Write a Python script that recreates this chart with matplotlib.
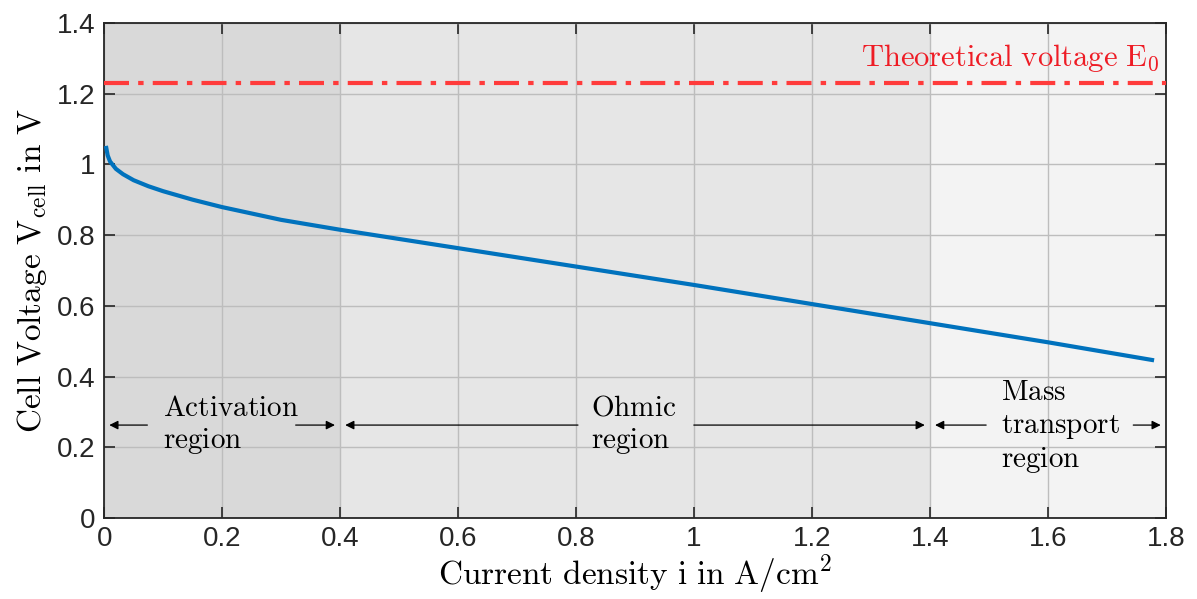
import numpy as np
import matplotlib
matplotlib.use("Agg")
from matplotlib import pyplot as plt

plt.rcParams['mathtext.fontset'] = 'cm'
plt.rcParams['font.family'] = ['Liberation Sans', 'DejaVu Sans']

# polarisation curve
current = [0.003, 0.006, 0.01, 0.02, 0.032, 0.05, 0.075, 0.1, 0.15, 0.2, 0.25,
           0.3, 0.4, 0.6, 0.8, 1.0, 1.2, 1.4, 1.6, 1.78]
voltage = [1.052, 1.025, 1.008, 0.987, 0.972, 0.955, 0.938, 0.924, 0.900, 0.879,
           0.861, 0.843, 0.815, 0.763, 0.711, 0.659, 0.605, 0.551, 0.497, 0.446]
e0 = 1.23

# regions
bounds = [0.0, 0.4, 1.4, 1.8]
region_colors = ['#d9d9d9', '#e6e6e6', '#f3f3f3']
region_labels = ['Activation\nregion', 'Ohmic\nregion', 'Mass\ntransport\nregion']
text_x = [0.10, 0.825, 1.52]
# where the arrows stop around the text
gaps = [(0.078, 0.32), (0.808, 0.995), (1.50, 1.74)]
arrow_y = 0.263

xticks = np.arange(0, 1.81, 0.2)
yticks = np.arange(0, 1.41, 0.2)

fig = plt.figure(figsize=(11.97, 5.99), dpi=100)
ax = fig.add_axes([0.087, 0.135, 0.887, 0.827])

for i in range(3):
    ax.axvspan(bounds[i], bounds[i + 1], color=region_colors[i], zorder=0, lw=0)

ax.grid(True, color='#bdbdbd', lw=1.0, zorder=1)
ax.set_axisbelow(True)

ax.axhline(e0, color='#ff3b3b', lw=3, dashes=(6, 2.2, 1.3, 2.2), zorder=3)
ax.text(1.79, 1.30, r'$\mathrm{Theoretical\ voltage\ E_0}$', color='#ee1c25',
        fontsize=22, ha='right', va='center', zorder=4)

ax.plot(current, voltage, color='#0072BD', lw=3, zorder=4, solid_capstyle='butt')

arrow_kw = dict(arrowstyle='-|>', color='black', lw=0.9, mutation_scale=13)
for i in range(3):
    left, right = gaps[i]
    ax.annotate('', xy=(bounds[i] + 0.004, arrow_y), xytext=(left, arrow_y),
                arrowprops=arrow_kw, zorder=5)
    ax.annotate('', xy=(bounds[i + 1] - 0.004, arrow_y), xytext=(right, arrow_y),
                arrowprops=arrow_kw, zorder=5)
    lines = region_labels[i].split('\n')
    txt = '\n'.join(r'$\mathrm{%s}$' % s for s in lines)
    yoff = arrow_y if len(lines) == 2 else arrow_y - 0.005
    ax.text(text_x[i], yoff, txt, fontsize=21, ha='left', va='center',
            linespacing=1.2, zorder=5)

ax.set_xlim(0, 1.8)
ax.set_ylim(0, 1.4)
ax.set_xticks(xticks)
ax.set_yticks(yticks)
ax.set_xticklabels(['%g' % round(v, 1) for v in xticks])
ax.set_yticklabels(['%g' % round(v, 1) for v in yticks])
ax.tick_params(direction='in', length=8, width=1.2, color='#262626',
               labelsize=20, labelcolor='#262626', top=True, right=True, pad=6)
for s in ax.spines.values():
    s.set_color('#262626')
    s.set_linewidth(1.3)

ax.set_xlabel(r'$\mathrm{Current\ density\ i\ in\ A/cm^2}$', fontsize=24, labelpad=0)
ax.set_ylabel(r'$\mathrm{Cell\ Voltage\ V_{cell}\ in\ V}$', fontsize=24, labelpad=6)

fig.savefig('out.png', dpi=100, facecolor='white')
